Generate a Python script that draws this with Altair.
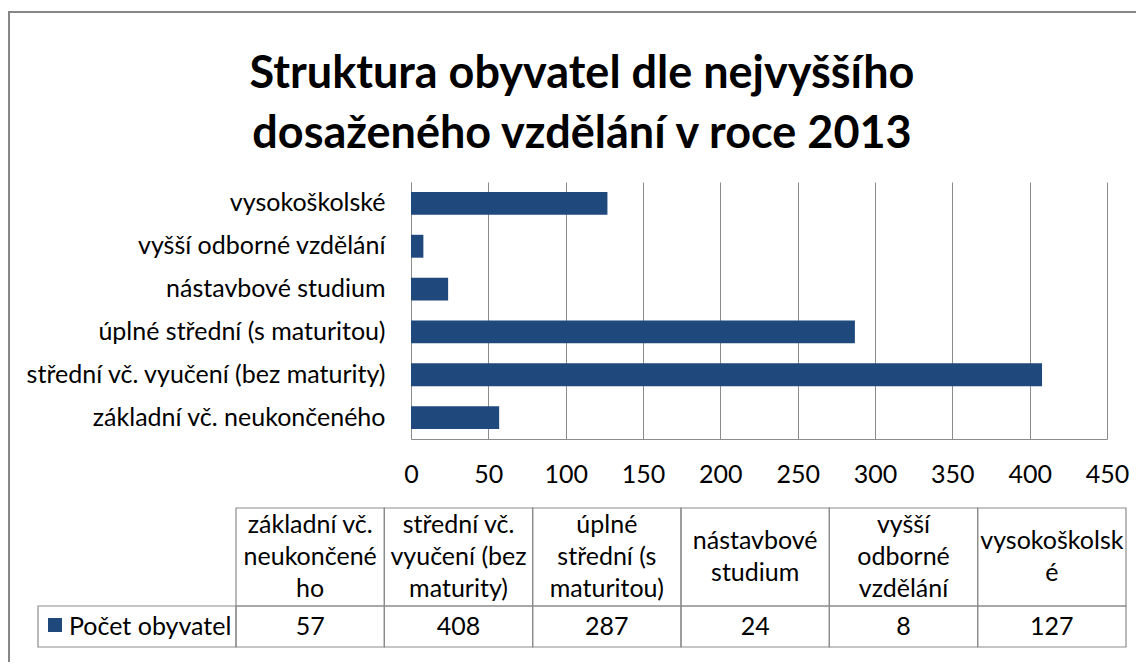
import altair as alt
import pandas as pd

# ---- data ----
categories = ["vysokoškolské", "vyšší odborné vzdělání", "nástavbové studium",
              "úplné střední (s maturitou)", "střední vč. vyučení (bez maturity)",
              "základní vč. neukončeného"]
values = [127, 8, 24, 287, 408, 57]

table_order = ["základní vč. neukončeného", "střední vč. vyučení (bez maturity)",
               "úplné střední (s maturitou)", "nástavbové studium",
               "vyšší odborné vzdělání", "vysokoškolské"]
table_headers = ["základní vč.\nneukončené\nho", "střední vč.\nvyučení (bez\nmaturity)",
                 "úplné\nstřední (s\nmaturitou)", "nástavbové\nstudium",
                 "vyšší\nodborné\nvzdělání", "vysokoškolsk\né"]
series_name = "Počet obyvatel"
title_text = "Struktura obyvatel dle nejvyššího\ndosaženého vzdělání v roce 2013"
x_ticks = [0, 50, 100, 150, 200, 250, 300, 350, 400, 450]

FONT = "Lato"
BAR = "#1F497D"
GRID = "#8c8c8c"
TXT = 25

bars_df = pd.DataFrame({"cat": categories, "value": values})
val_map = dict(zip(categories, values))
table_df = pd.DataFrame({"tcat": table_order, "value": [val_map[c] for c in table_order]})

# header lines exploded: one row per line, with its offset from the cell centre (in lines)
rows = []
for cat, hdr in zip(table_order, table_headers):
    parts = hdr.split("\n")
    n = len(parts)
    for i, p in enumerate(parts):
        rows.append({"tcat": cat, "line": p, "off": i - (n - 1) / 2})
hdr_df = pd.DataFrame(rows)
one = pd.DataFrame({"a": [0]})

tscale = alt.Scale(domain=table_order, range=[-175, 715], paddingInner=0, paddingOuter=0)
tx = alt.X("tcat:N", scale=tscale, axis=None, sort=table_order)

border = alt.Chart(one).mark_rect(fill="transparent", stroke="#878787", strokeWidth=2).encode(
    x=alt.value(-402), x2=alt.value(900), y=alt.value(-170), y2=alt.value(600))

bars = alt.Chart(bars_df).mark_bar(color=BAR).encode(
    x=alt.X("value:Q", scale=alt.Scale(domain=[0, 450], nice=False),
            axis=alt.Axis(values=x_ticks, grid=True, gridColor=GRID, gridWidth=1,
                          domainColor=GRID, ticks=False, title=None,
                          labelFont=FONT, labelFontSize=TXT, labelColor="black",
                          labelPadding=35, labelBaseline="middle",
                          labelFlush=False, labelOverlap=False)),
    y=alt.Y("cat:N", sort=categories,
            scale=alt.Scale(domain=categories, paddingInner=0.465, paddingOuter=0.2325),
            axis=alt.Axis(title=None, ticks=False, domainColor=GRID, grid=False,
                          labelFont=FONT, labelFontSize=TXT, labelColor="black",
                          labelPadding=26, labelLimit=0)),
)

hdr_cells = alt.Chart(table_df).mark_rect(fill="transparent", stroke=GRID, strokeWidth=1.2).encode(
    x=tx, y=alt.value(326), y2=alt.value(424))
val_cells = alt.Chart(table_df).mark_rect(fill="transparent", stroke=GRID, strokeWidth=1.2).encode(
    x=tx, y=alt.value(424), y2=alt.value(465))
leg_cell = alt.Chart(one).mark_rect(fill="transparent", stroke=GRID, strokeWidth=1.2).encode(
    x=alt.value(-373), x2=alt.value(-175), y=alt.value(424), y2=alt.value(465))

hdr_text = alt.Chart(hdr_df).mark_text(font=FONT, fontSize=TXT, color="black",
                                       align="center", baseline="middle").encode(
    x=tx,
    y=alt.Y("off:Q", scale=alt.Scale(domain=[-1, 1], range=[343, 407]), axis=None),
    text="line:N")
val_text = alt.Chart(table_df).mark_text(font=FONT, fontSize=TXT, color="black",
                                         align="center", baseline="middle").encode(
    x=tx, y=alt.value(445), text="value:Q")

leg_sq = alt.Chart(one).mark_rect(color=BAR).encode(
    x=alt.value(-363), x2=alt.value(-349), y=alt.value(436), y2=alt.value(450))
leg_txt = alt.Chart(pd.DataFrame({"t": [series_name]})).mark_text(
    font=FONT, fontSize=TXT, color="black", align="left", baseline="middle").encode(
    x=alt.value(-342), y=alt.value(445), text="t:N")

title = alt.Chart(pd.DataFrame({"t": [title_text]})).mark_text(
    font=FONT, fontSize=45, fontWeight="bold", color="black", lineBreak="\n",
    lineHeight=60, align="center", baseline="alphabetic").encode(
    x=alt.value(171), y=alt.value(-94), text="t:N")

chart = alt.layer(border, bars, hdr_cells, val_cells, leg_cell, hdr_text, val_text,
                  leg_sq, leg_txt, title).resolve_scale(x="independent", y="independent").properties(
    width=696, height=257,
    padding={"left": 403, "top": 174, "right": 29, "bottom": 223},
    autosize=alt.AutoSizeParams(type="none"),
    background="white",
).configure_view(strokeWidth=0)

chart.save("out.html", embed_options={"renderer": "svg", "actions": False})
